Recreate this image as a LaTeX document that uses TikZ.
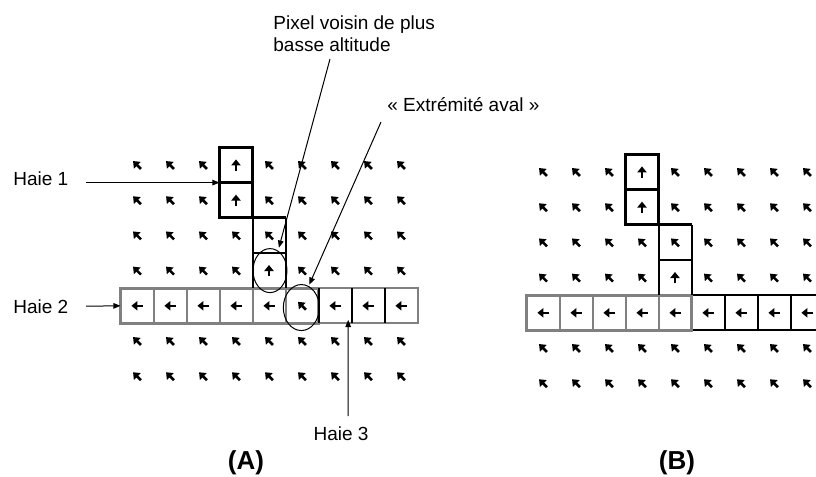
\documentclass[tikz,border=0pt]{standalone}
\usepackage{fontspec}
\setmainfont{Liberation Sans}
\usetikzlibrary{arrows.meta}

\tikzset{
  fleche/.style={line width=1.3pt,-{Triangle[length=3pt,width=4.6pt]}},
  renvoi/.style={line width=0.5pt,-{Triangle[length=3.6pt,width=2.8pt]}},
  etiquette/.style={inner sep=0pt,font=\fontsize{9.5}{11}\selectfont},
  titre/.style={inner sep=0pt,font=\fontsize{13}{15}\selectfont\bfseries},
  haiefort/.style={line width=1.5pt},
  haiefin/.style={line width=1pt},
  haiegris/.style={line width=1pt,draw=black!50},
}

% sens d'ecoulement d'un pixel : colonne, ligne, angle
\newcommand{\glyphe}[3]{\draw[fleche] (#1,#2) ++(#3:-2.8pt) -- ++(#3:5.6pt);}

\begin{document}
\begin{tikzpicture}[x=0.5pt,y=-0.5pt]
\clip (0,0) rectangle (816,477);

% (A)
\begin{scope}[shift={(137,165)},x=16.5pt,y=-17.6pt]
  \foreach \r in {0,1} \foreach \c in {0,1,2,4,5,6,7,8} {\glyphe{\c}{\r}{135}}
  \foreach \r in {0,1} {\glyphe{3}{\r}{90}}
  \foreach \c in {0,...,8} {\glyphe{\c}{2}{135}}
  \foreach \c in {0,1,2,3,5,6,7,8} {\glyphe{\c}{3}{135}}
  \glyphe{4}{3}{90}
  \foreach \c in {0,1,2,3,4,6,7,8} {\glyphe{\c}{4}{180}}
  \glyphe{5}{4}{135}
  \foreach \r in {5,6} \foreach \c in {0,...,8} {\glyphe{\c}{\r}{135}}
  % haie 2 et haie 3
  \foreach \x in {0.5,1.5,2.5,3.5,4.5} \draw[haiegris] (\x,3.5) -- (\x,4.5);
  \draw[haiegris] (5.5,3.5) -- (8.5,3.5) -- (8.5,4.5) -- (5.5,4.5);
  \draw[haiegris,line width=1.5pt] (-0.5,3.5) rectangle (5.5,4.5);
  \foreach \x in {5.5,6.5,7.5} \draw[haiefin] (\x,3.5) -- (\x,4.5);
  % haie 1
  \draw[haiefin] (3.5,1.5) -- (3.5,3.5) (4.5,1.5) -- (4.5,3.5) (3.5,2.5) -- (4.5,2.5);
  \draw[haiefort] (2.5,-0.5) rectangle (3.5,1.5) (2.5,0.5) -- (3.5,0.5) (3.5,1.5) -- (4.5,1.5);
  % pixels entoures
  \draw[line width=0.5pt] (4.03,3) ellipse [x radius=8.5pt,y radius=11pt];
  \draw[line width=0.5pt] (4.98,4.05) ellipse [x radius=9pt,y radius=11.5pt];
  \coordinate (pointhaieun) at (2.5,0.5);
  \coordinate (pointhaiedeux) at (-0.5,4);
  \coordinate (pointhaietrois) at (6.4,4.4);
  \coordinate (pointvoisin) at (4.3,2.35);
  \coordinate (pointaval) at (5.22,3.4);
\end{scope}

% (B)
\begin{scope}[shift={(543,172)},x=16.5pt,y=-17.6pt]
  \foreach \r in {0,1} \foreach \c in {0,1,2,4,5,6,7,8} {\glyphe{\c}{\r}{135}}
  \foreach \r in {0,1} {\glyphe{3}{\r}{90}}
  \foreach \c in {0,...,8} {\glyphe{\c}{2}{135}}
  \foreach \c in {0,1,2,3,5,6,7,8} {\glyphe{\c}{3}{135}}
  \glyphe{4}{3}{90}
  \foreach \c in {0,...,8} {\glyphe{\c}{4}{180}}
  \foreach \r in {5,6} \foreach \c in {0,...,8} {\glyphe{\c}{\r}{135}}
  % haie fusionnee
  \draw[haiefin] (4.5,3.5) -- (8.5,3.5) -- (8.5,4.5) -- (4.5,4.5);
  \foreach \x in {5.5,6.5,7.5} \draw[haiefin] (\x,3.5) -- (\x,4.5);
  \foreach \x in {0.5,1.5,2.5,3.5} \draw[haiegris] (\x,3.5) -- (\x,4.5);
  \draw[haiegris,line width=1.5pt] (-0.5,3.5) rectangle (4.5,4.5);
  \draw[haiefin] (3.5,1.5) -- (3.5,3.5) (4.5,1.5) -- (4.5,3.5) (3.5,2.5) -- (4.5,2.5);
  \draw[haiefort] (2.5,-0.5) rectangle (3.5,1.5) (2.5,0.5) -- (3.5,0.5) (3.5,1.5) -- (4.5,1.5);
\end{scope}

% legendes
\node[etiquette,anchor=base west] (haieun) at (13,185) {Haie 1};
\node[etiquette,anchor=base west] (haiedeux) at (13,313) {Haie 2};
\node[etiquette,anchor=base] (haietrois) at (341,440) {Haie 3};
\node[etiquette,anchor=north west,align=left] (voisin) at (273,15) {Pixel voisin de plus\\basse altitude};
\node[etiquette,anchor=base west] (extremite) at (387,111) {«~Extrémité aval~»};
\node[titre,anchor=base] (titreA) at (246,469) {(A)};
\node[titre,anchor=base] (titreB) at (677,469) {(B)};

\coordinate (departun) at (86,182.6);
\coordinate (departdeux) at (86,306.2);
\coordinate (departtrois) at (348.2,416);
\coordinate (departvoisin) at (330,59);
\coordinate (departaval) at (381,122);

\draw[renvoi] (departun) -- (pointhaieun);
\draw[renvoi] (departdeux) -- (pointhaiedeux);
\draw[renvoi] (departtrois) -- (pointhaietrois);
\draw[renvoi] (departvoisin) -- (pointvoisin);
\draw[renvoi] (departaval) -- (pointaval);
\end{tikzpicture}
\end{document}
